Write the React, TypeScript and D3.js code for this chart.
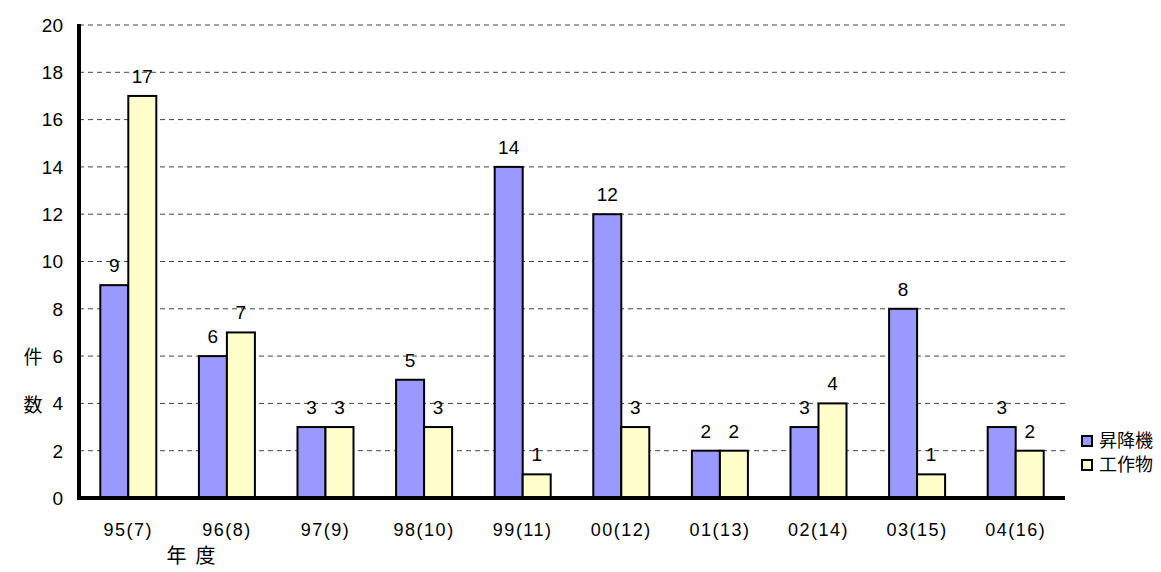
import * as d3 from 'd3'

const width = 1161
const height = 572

const years = ['95(7)', '96(8)', '97(9)', '98(10)', '99(11)', '00(12)', '01(13)', '02(14)', '03(15)', '04(16)']
const lifts = [9, 6, 3, 5, 14, 12, 2, 3, 8, 3]
const structures = [17, 7, 3, 3, 1, 3, 2, 4, 1, 2]
const seriesNames = ['昇降機', '工作物']
const seriesColors = ['#9999FF', '#FFFFCC']
const yTicks = [0, 2, 4, 6, 8, 10, 12, 14, 16, 18, 20]

const margin = { top: 25, right: 96, bottom: 74, left: 79 }
const font = '"Liberation Sans", Arial, "Noto Sans CJK JP", sans-serif'
const cjk = '"Noto Sans CJK JP", sans-serif'

function App() {
  const innerWidth = width - margin.left - margin.right
  const innerHeight = height - margin.top - margin.bottom

  const xScale = d3.scaleBand().domain(years).range([0, innerWidth]).paddingInner(0.432).paddingOuter(0.216)
  const inner = d3.scaleBand().domain(seriesNames).range([0, xScale.bandwidth()])
  const yScale = d3.scaleLinear().domain([0, 20]).range([innerHeight, 0])

  const series = [lifts, structures]

  return (
    <svg width={width} height={height} style={{ position: 'absolute', left: 0, top: 0, fontFamily: font }}>
      <rect width={width} height={height} fill="white" />
      <g transform={`translate(${margin.left},${margin.top})`}>
        {yTicks.map((t) => (
          <g key={t}>
            {t > 0 && (
              <line x1={0} x2={innerWidth} y1={yScale(t)} y2={yScale(t)} stroke="#444" strokeWidth={1} strokeDasharray="5,4" />
            )}
            <text x={-16} y={yScale(t)} dy="0.36em" textAnchor="end" fontSize={19}>{t}</text>
          </g>
        ))}
        {years.map((yr, i) => (
          <g key={yr} transform={`translate(${xScale(yr)},0)`}>
            {series.map((s, j) => {
              const x = inner(seriesNames[j])!
              const y = yScale(s[i])
              return (
                <g key={j}>
                  <rect x={x} y={y} width={inner.bandwidth()} height={innerHeight - y} fill={seriesColors[j]} stroke="black" strokeWidth={2} />
                  <text x={x + inner.bandwidth() / 2} y={y - 13} textAnchor="middle" fontSize={19}>{s[i]}</text>
                </g>
              )
            })}
            <text x={xScale.bandwidth() / 2} y={innerHeight + 38} textAnchor="middle" fontSize={18} letterSpacing={1.5}>{yr}</text>
          </g>
        ))}
        <line x1={0} x2={0} y1={-1} y2={innerHeight + 2} stroke="black" strokeWidth={4} />
        <line x1={-2} x2={innerWidth} y1={innerHeight} y2={innerHeight} stroke="black" strokeWidth={4} />
      </g>
      <text x={33} y={357} dy="0.35em" textAnchor="middle" fontSize={19} fontFamily={cjk}>件</text>
      <text x={33} y={405} dy="0.35em" textAnchor="middle" fontSize={19} fontFamily={cjk}>数</text>
      <text x={191} y={556} dy="0.35em" textAnchor="middle" fontSize={20} fontFamily={cjk}>
        <tspan>年</tspan>
        <tspan dx={9}>度</tspan>
      </text>
      {seriesNames.map((n, j) => (
        <g key={n} transform={`translate(1082,${436 + j * 24})`}>
          <rect x={0} y={0} width={10} height={10} fill={seriesColors[j]} stroke="black" strokeWidth={2} />
          <text x={17} y={5} dy="0.35em" fontSize={18} fontFamily={cjk}>{n}</text>
        </g>
      ))}
    </svg>
  )
}

export default App
